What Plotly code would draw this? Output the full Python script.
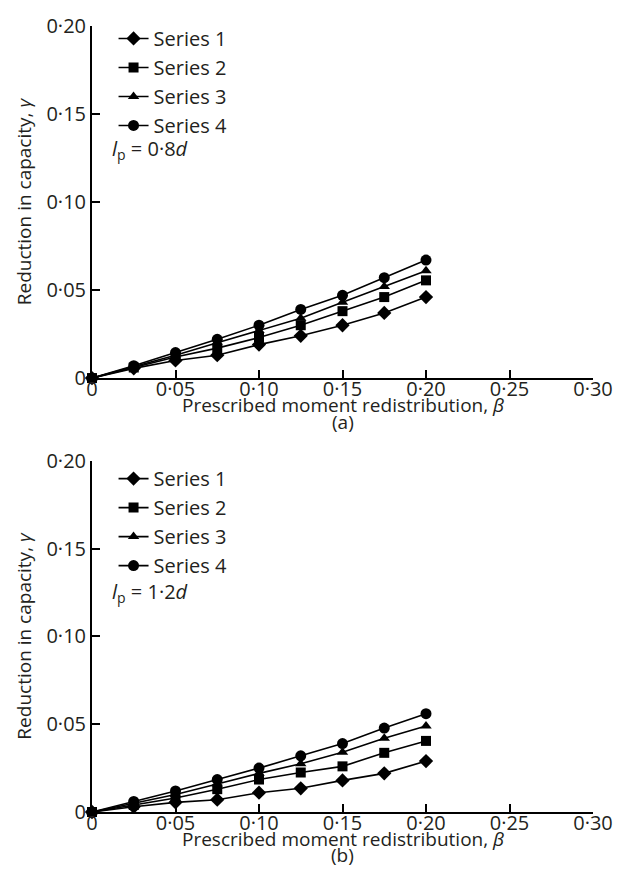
import plotly.graph_objects as go

beta = [0, 0.025, 0.05, 0.075, 0.10, 0.125, 0.15, 0.175, 0.20]

# (a) l_p = 0.8d
a_s1 = [0, 0.0055, 0.010, 0.013, 0.019, 0.024, 0.030, 0.037, 0.046]
a_s2 = [0, 0.006, 0.012, 0.017, 0.023, 0.030, 0.038, 0.046, 0.0555]
a_s3 = [0, 0.0065, 0.013, 0.020, 0.027, 0.034, 0.043, 0.052, 0.061]
a_s4 = [0, 0.007, 0.0145, 0.022, 0.030, 0.039, 0.047, 0.057, 0.067]

# (b) l_p = 1.2d
b_s1 = [0, 0.003, 0.0055, 0.007, 0.011, 0.0135, 0.018, 0.022, 0.029]
b_s2 = [0, 0.004, 0.008, 0.013, 0.0185, 0.0225, 0.026, 0.0337, 0.0405]
b_s3 = [0, 0.005, 0.010, 0.016, 0.022, 0.0275, 0.034, 0.042, 0.049]
b_s4 = [0, 0.006, 0.012, 0.0185, 0.025, 0.032, 0.039, 0.0478, 0.056]

series_names = ["Series 1", "Series 2", "Series 3", "Series 4"]
symbols = ["diamond", "square", "triangle-up", "circle"]
sizes = [11, 10, 10, 11]

x_ticks = [0, 0.05, 0.10, 0.15, 0.20, 0.25, 0.30]
x_ticktext = ["0", "0·05", "0·10", "0·15", "0·20", "0·25", "0·30"]
y_ticks = [0, 0.05, 0.10, 0.15, 0.20]
y_ticktext = ["0", "0·05", "0·10", "0·15", "0·20"]

x_title = "Prescribed moment redistribution, <i>β</i>"
y_title = "Reduction in capacity, <i>γ</i>"

FONT = "Open Sans"
TXT = "#231f20"
INK = "#000000"

fig = go.Figure()

for data, xa, ya, leg in [([a_s1, a_s2, a_s3, a_s4], "x", "y", "legend"),
                          ([b_s1, b_s2, b_s3, b_s4], "x2", "y2", "legend2")]:
    for i, vals in enumerate(data):
        fig.add_trace(go.Scatter(
            x=beta, y=vals, mode="lines+markers", name=series_names[i],
            xaxis=xa, yaxis=ya, legend=leg, legendgroup=leg + str(i),
            line=dict(color=INK, width=1.6),
            marker=dict(symbol=symbols[i], size=sizes[i], color=INK),
            cliponaxis=False, showlegend=True,
        ))

axis_common = dict(
    range=[0, 0.30], tickvals=x_ticks, ticktext=x_ticktext,
    ticks="inside", ticklen=8, tickwidth=2, tickcolor=INK,
    showline=True, linecolor=INK, linewidth=2, showgrid=False, zeroline=False,
    tickfont=dict(family=FONT, size=20, color=TXT),
    ticklabelstandoff=-8,
    domain=[0, 1],
)
yaxis_common = dict(
    range=[0, 0.20], tickvals=y_ticks, ticktext=y_ticktext,
    ticks="inside", ticklen=8, tickwidth=2, tickcolor=INK,
    showline=True, linecolor=INK, linewidth=2, showgrid=False, zeroline=False,
    tickfont=dict(family=FONT, size=20, color=TXT),
    title=dict(text=y_title, font=dict(family=FONT, size=19, color=TXT), standoff=10),
)

legend_common = dict(
    font=dict(family=FONT, size=20, color=TXT),
    bgcolor="rgba(0,0,0,0)", borderwidth=0,
    tracegroupgap=0, itemwidth=30,
    xanchor="left", yanchor="top",
)

def ann(text, y, x=0.5, xanchor="center", size=19):
    return dict(text=text, xref="paper", yref="paper", x=x, y=y,
                xanchor=xanchor, yanchor="middle", showarrow=False,
                font=dict(family=FONT, size=size, color=TXT))

fig.update_layout(
    width=628, height=888,
    margin=dict(l=92, r=35, t=15, b=76),
    paper_bgcolor="white", plot_bgcolor="white",
    xaxis=dict(axis_common, anchor="y"),
    yaxis=dict(yaxis_common, anchor="x", domain=[0.5521, 1]),
    xaxis2=dict(axis_common, anchor="y2"),
    yaxis2=dict(yaxis_common, anchor="x2", domain=[0, 0.4467]),
    legend=dict(legend_common, x=0.043, y=1.009),
    legend2=dict(legend_common, x=0.043, y=0.449),
    annotations=[
        ann("<i>l</i><sub>p</sub> = 0·8<i>d</i>", 0.8432, x=0.036, xanchor="left", size=20),
        ann("<i>l</i><sub>p</sub> = 1·2<i>d</i>", 0.2795, x=0.036, xanchor="left", size=20),
        ann(x_title, 0.5182),
        ann(x_title, -0.0339),
        ann("(a)", 0.4968),
        ann("(b)", -0.0553),
    ],
)

fig.write_html("out.html")
